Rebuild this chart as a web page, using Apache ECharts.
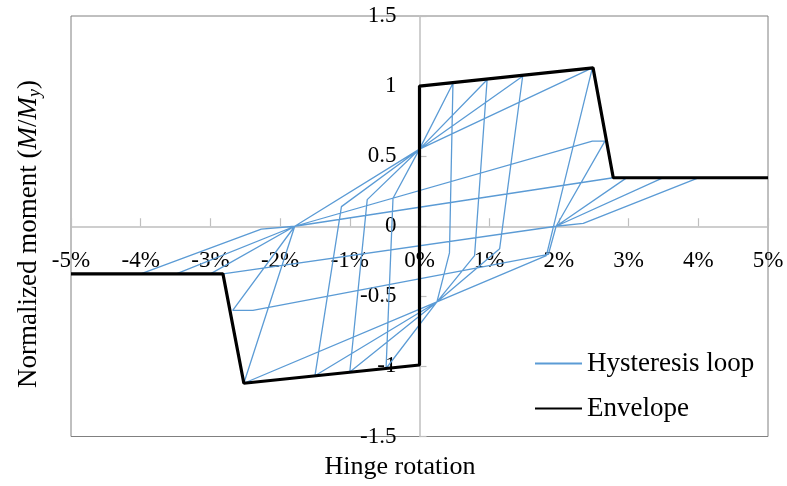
<!DOCTYPE html>
<html>
<head>
<meta charset="utf-8">
<script src="https://cdn.jsdelivr.net/npm/echarts/dist/echarts.min.js"></script>
<style>
html,body{margin:0;padding:0;background:#fff;}
#chart{width:787px;height:486px;}
</style>
</head>
<body>
<div id="chart"></div>
<script>
// ---- data (rotation in %, moment normalised by My) ----
const rotationTicks = [-5, -4, -3, -2, -1, 0, 1, 2, 3, 4, 5];
const momentTicks = [-1.5, -1, -0.5, 0, 0.5, 1, 1.5];

const envelopeRotation = [-5, -2.82, -2.52, 0, 0, 2.49, 2.78, 5];
const envelopeMoment   = [-0.34, -0.34, -1.12, -0.99, 1.0, 1.13, 0.346, 0.346];

const loopRotation = [
  0, 0, 0.48, 0.43, 0.25, -0.48, -0.38, 0,
  0.48, 0.43, 0.25, -0.48, -0.38, 0,
  0.97, 0.79, 0.25, -1.00, -0.75, 0,
  1.48, 1.15, 0.25, -1.50, -1.12, 0,
  2.48, 1.82, 0.25, -2.52, -1.79, 0,
  2.48, 1.82, 0.25, -2.52, -1.79,
  2.48, 2.66, 1.96, 1.85, -2.39, -2.68, -1.79,
  2.78, 2.97, 1.96, -2.82, -3.00, -1.79,
  2.78, 3.49, 1.96, -2.82, -3.49, -1.79,
  2.78, 4.00, 2.35, 1.96, -2.82, -4.00, -2.27, -1.79
];
const loopMoment = [
  0, 1.0, 1.02, -0.19, -0.54, -1.015, 0.20, 0.55,
  1.02, -0.19, -0.54, -1.015, 0.20, 0.55,
  1.045, -0.21, -0.54, -1.04, 0.19, 0.55,
  1.07, -0.16, -0.54, -1.067, 0.14, 0.55,
  1.13, -0.21, -0.54, -1.12, 0, 0.55,
  1.13, -0.21, -0.54, -1.12, 0,
  0.607, 0.607, 0, -0.20, -0.60, -0.60, 0,
  0.346, 0.345, 0, -0.34, -0.34, 0,
  0.346, 0.345, 0, -0.34, -0.34, 0,
  0.346, 0.345, 0.02, 0, -0.34, -0.34, -0.02, 0
];

function zip(xs, ys) {
  const n = Math.min(xs.length, ys.length);
  const out = [];
  for (let i = 0; i < n; i++) out.push([xs[i], ys[i]]);
  return out;
}

const FONT = '"Liberation Serif", "Times New Roman", serif';
const W = 787, H = 486;
const G = {left: 71, right: 19, top: 16, bottom: 49.5};
const gridW = W - G.left - G.right;
const gridH = H - G.top - G.bottom;
const xMin = rotationTicks[0], xMax = rotationTicks[rotationTicks.length - 1];
const yMin = momentTicks[0], yMax = momentTicks[momentTicks.length - 1];
// axes cross at zero (as in the spreadsheet chart)
const xAxisOffset = -gridH * (0 - yMin) / (yMax - yMin);
const yAxisOffset = -gridW * (0 - xMin) / (xMax - xMin);

const chart = echarts.init(document.getElementById('chart'), null, {renderer: 'canvas'});

chart.setOption({
  animation: false,
  backgroundColor: '#ffffff',
  grid: {
    left: G.left, right: G.right, top: G.top, bottom: G.bottom,
    containLabel: false, outerBoundsMode: 'none',
    show: true, borderColor: '#808080', borderWidth: 1, backgroundColor: 'transparent'
  },
  xAxis: {
    type: 'value', position: 'bottom', offset: xAxisOffset,
    min: xMin, max: xMax, interval: 1,
    axisLine: {show: true, onZero: false, lineStyle: {color: '#bfbfbf', width: 1.5}},
    axisTick: {show: true, inside: true, length: 8, lineStyle: {color: '#bfbfbf', width: 1.2}},
    splitLine: {show: false},
    axisLabel: {
      formatter: '{value}%', margin: 23, color: '#000', fontFamily: FONT, fontSize: 23,
      showMinLabel: true, showMaxLabel: true
    }
  },
  yAxis: {
    type: 'value', position: 'left', offset: yAxisOffset,
    min: yMin, max: yMax, interval: 0.5,
    axisLine: {show: true, onZero: false, lineStyle: {color: '#bfbfbf', width: 1.5}},
    axisTick: {show: true, inside: true, length: 7, lineStyle: {color: '#bfbfbf', width: 1.2}},
    splitLine: {show: false},
    axisLabel: {
      margin: 23, color: '#000', fontFamily: FONT, fontSize: 23,
      showMinLabel: true, showMaxLabel: true
    }
  },
  legend: {
    data: ['Hysteresis loop', 'Envelope'],
    orient: 'vertical', left: 529, top: 345,
    itemWidth: 47, itemHeight: 24, itemGap: 18,
    itemStyle: {opacity: 0},
    textStyle: {fontFamily: FONT, fontSize: 27, color: '#000'},
    backgroundColor: 'transparent'
  },
  series: [
    {
      name: 'Hysteresis loop', type: 'line', data: zip(loopRotation, loopMoment),
      symbol: 'none', showSymbol: false, z: 2,
      lineStyle: {color: '#5B9BD5', width: 1.3}, itemStyle: {color: '#5B9BD5'}
    },
    {
      name: 'Envelope', type: 'line', data: zip(envelopeRotation, envelopeMoment),
      symbol: 'none', showSymbol: false, z: 3,
      lineStyle: {color: '#000000', width: 3.2}, itemStyle: {color: '#000000'}
    }
  ],
  graphic: [
    {
      type: 'text', x: 400, y: 467,
      style: {text: 'Hinge rotation', fontFamily: FONT, fontSize: 26, fill: '#000',
              align: 'center', verticalAlign: 'middle'}
    },
    {
      type: 'text', x: 29, y: 234, rotation: Math.PI / 2,
      style: {
        text: 'Normalized moment ({i|M}/{i|M}{s|y})',
        fontFamily: FONT, fontSize: 27, fill: '#000',
        align: 'center', verticalAlign: 'middle',
        rich: {
          i: {fontFamily: FONT, fontSize: 27, fontStyle: 'italic', fill: '#000'},
          s: {fontFamily: FONT, fontSize: 18, fontStyle: 'italic', fill: '#000',
              verticalAlign: 'bottom', padding: [12, 0, 0, 0]}
        }
      }
    }
  ]
});
</script>
</body>
</html>
